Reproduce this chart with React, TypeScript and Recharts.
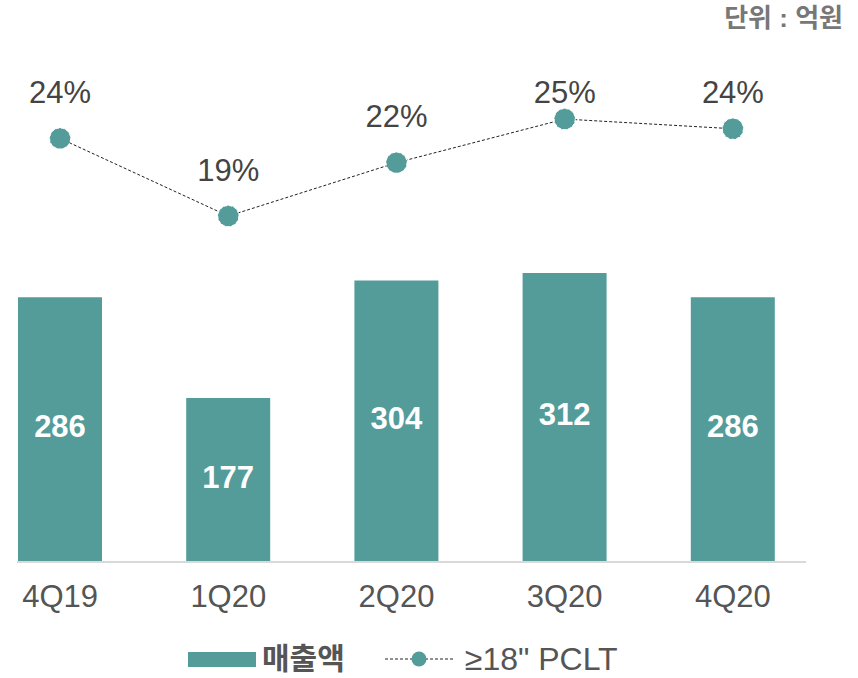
import React from 'react';
import { ComposedChart, Bar, Line, XAxis, YAxis, LabelList, Legend } from 'recharts';

const quarters = ['4Q19', '1Q20', '2Q20', '3Q20', '4Q20'];
const salesValues = [286, 177, 304, 312, 286];
const pcltShare = [23.8, 19.0, 22.3, 25.0, 24.4];
const unitLabel = '단위 : 억원';
const salesName = '매출액';
const pcltName = '≥18" PCLT';

const data = quarters.map((q, i) => ({ quarter: q, sales: salesValues[i], pclt: pcltShare[i] }));

const TEAL = '#539c9a';
const FONT = '"Liberation Sans", "Noto Sans CJK KR", sans-serif';

const renderBarLabel = (props: any) => {
  const { x, y, width, height, value } = props;
  return (
    <text
      x={x + width / 2}
      y={y + height / 2 - 3}
      textAnchor="middle"
      dominantBaseline="central"
      fill="#ffffff"
      fontSize={31}
      fontWeight="bold"
      fontFamily={FONT}
    >
      {value}
    </text>
  );
};

const renderPctLabel = (props: any) => {
  const { x, y, value } = props;
  const ly = Math.max(y - 46, 92);
  return (
    <text
      x={x}
      y={ly}
      textAnchor="middle"
      dominantBaseline="central"
      fill="#444444"
      fontSize={31}
      fontFamily={FONT}
    >
      {Math.round(value) + '%'}
    </text>
  );
};

const renderLegend = () => (
  <div
    style={{
      display: 'flex',
      alignItems: 'center',
      height: 26,
      paddingTop: 34,
      paddingLeft: 188,
      fontFamily: FONT,
      color: '#555555',
    }}
  >
    <div style={{ width: 68, height: 15, background: TEAL }} />
    <span style={{ marginLeft: 6, fontSize: 30, fontWeight: 'bold', lineHeight: '26px' }}>{salesName}</span>
    <svg width={70} height={20} style={{ marginLeft: 40 }}>
      <line x1={0} y1={10} x2={70} y2={10} stroke="#222" strokeWidth={1} strokeDasharray="3 2" />
      <circle cx={34} cy={10} r={7.5} fill={TEAL} />
    </svg>
    <span style={{ marginLeft: 10, fontSize: 32, lineHeight: '26px' }}>{pcltName}</span>
  </div>
);

export default function App() {
  return (
    <div style={{ position: 'absolute', left: 0, top: 0, width: 858, height: 678, background: '#fff' }}>
      <div
        style={{
          position: 'absolute',
          right: 15,
          top: 3,
          fontSize: 26,
          fontWeight: 'bold',
          color: '#777777',
          fontFamily: FONT,
          lineHeight: '30px',
        }}
      >
        {unitLabel}
      </div>
      <ComposedChart
        width={858}
        height={678}
        data={data}
        margin={{ top: 99, right: 52, bottom: 6, left: 17 }}
      >
        <XAxis
          dataKey="quarter"
          padding={{ left: -41, right: -11 }}
          axisLine={{ stroke: '#d9d9d9', strokeWidth: 2 }}
          tickLine={false}
          interval={0}
          height={50}
          tickMargin={17}
          tick={{ fill: '#555555', fontSize: 31, fontFamily: FONT }}
        />
        <YAxis yAxisId="left" hide domain={[0, 500]} />
        <YAxis yAxisId="right" orientation="right" hide domain={[-2.4, 26.24]} />
        <Legend verticalAlign="bottom" height={60} wrapperStyle={{ left: 0, width: 858 }} content={renderLegend} />
        <Bar yAxisId="left" dataKey="sales" name={salesName} fill={TEAL} barSize={84} isAnimationActive={false}>
          <LabelList dataKey="sales" content={renderBarLabel} />
        </Bar>
        <Line
          yAxisId="right"
          type="linear"
          dataKey="pclt"
          name={pcltName}
          stroke="#222222"
          strokeWidth={1}
          strokeDasharray="3 2"
          dot={{ r: 10.5, fill: TEAL, stroke: '#ffffff', strokeWidth: 1 }}
          activeDot={false}
          isAnimationActive={false}
        >
          <LabelList dataKey="pclt" content={renderPctLabel} />
        </Line>
      </ComposedChart>
    </div>
  );
}
